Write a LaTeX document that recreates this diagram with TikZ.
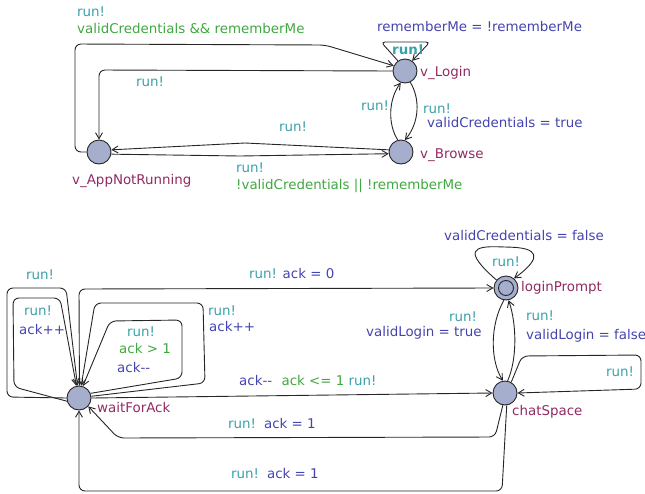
\documentclass[tikz,border=0pt]{standalone}
\usepackage{fontspec}
\setmainfont{DejaVu Sans}
\usetikzlibrary{arrows.meta,positioning}
\definecolor{locfill}{RGB}{166,174,206}
\definecolor{syncc}{RGB}{58,160,168}
\definecolor{updc}{RGB}{68,68,176}
\definecolor{guardc}{RGB}{64,168,64}
\definecolor{namec}{RGB}{146,42,98}
\tikzset{
  loc/.style={circle,draw=black!85,fill=locfill,minimum size=24pt,inner sep=0pt,line width=0.9pt},
  committed/.style={loc,path picture={\draw[black!85,line width=0.9pt] (path picture bounding box.center) circle (7.5pt);}},
  edge/.style={draw=black!85,line width=0.9pt,rounded corners=6pt,-{Straight Barb[length=6pt,width=7pt]}},
  lbl/.style={anchor=base west,inner sep=0pt},
  sync/.style={lbl,text=syncc},
  upd/.style={lbl,text=updc},
  grd/.style={lbl,text=guardc},
  locname/.style={lbl,text=namec}
}
\begin{document}
\begin{tikzpicture}[x=1pt,y=-1pt,font=\fontsize{13.4}{16}\selectfont]
  \useasboundingbox (0,0) rectangle (645,493);

  \node[loc] (login)  at (405, 71) {};
  \node[loc] (browse) at (401,152) {};
  \node[loc] (anr)    at ( 99,152) {};
  \node[committed] (prompt) at (506,288) {};
  \node[loc] (chat)   at (505,393) {};
  \node[loc] (wait)   at ( 79,398) {};

  \node[locname] (nlogin)  at (420, 76) {v\_Login};
  \node[locname] (nbrowse) at (420,158) {v\_Browse};
  \node[locname] (nanr)    at ( 72,184) {v\_AppNotRunning};
  \node[locname] (nprompt) at (521,291) {loginPrompt};
  \node[locname] (nchat)   at (512,415) {chatSpace};
  \node[locname] (nwait)   at ( 97,412) {waitForAck};

  % upper template
  \draw[edge] (anr.west) -- (75,152) -- (75,44) -- (325,45) -- (login.155);
  \node[sync] (s1) at (77,16) {run!};
  \node[grd]  (g1) at (77,33) {validCredentials \&\& rememberMe};

  \draw[edge] (login.west) -- (99,70) -- (anr.north);
  \node[sync] (s2) at (136,86) {run!};

  \draw[edge,rounded corners=0pt] (browse.170) -- (245,143) -- (anr.10);
  \node[sync] (s3) at (279,131) {run!};

  \draw[edge,rounded corners=0pt] (anr.-10) -- (240,156) -- (browse.188);
  \node[sync] (s4) at (236,172) {run!};
  \node[grd]  (g4) at (236,189) {!validCredentials || !rememberMe};

  \draw[edge,rounded corners=4pt] (login.125) -- (381,42) -- (430,42) -- (login.55);
  \node[sync,font=\fontsize{13.4}{16}\selectfont\bfseries] (s5) at (392,54) {run!};
  \node[upd]  (u5) at (377,31) {rememberMe = !rememberMe};

  \draw[edge] (browse.105) .. controls (388,125) and (388,100) .. (login.250);
  \node[sync] (s6) at (361,110) {run!};

  \draw[edge] (login.-65) .. controls (420,98) and (420,122) .. (browse.72);
  \node[sync] (s7) at (423,113) {run!};
  \node[upd]  (u7) at (427,127) {validCredentials = true};

  % lower template
  \draw[edge] (wait.west) -- (7,397) -- (7,288) -- (66,288) -- (wait.97);
  \node[sync] (s8) at (26,279) {run!};

  \draw[edge] (wait.195) -- (14,387) -- (13,298) -- (60,298) -- (wait.102);
  \node[sync] (s9) at (24,315) {run!};
  \node[upd]  (u9) at (19,334) {ack++};

  \draw[edge] (wait.8) -- (205,383) -- (203,303) -- (95,303) -- (wait.80);
  \node[sync] (s10) at (208,315) {run!};
  \node[upd]  (u10) at (209,331) {ack++};

  \draw[edge] (wait.22) -- (182,378) -- (182,320) -- (110,321) -- (wait.72);
  \node[sync] (s11) at (127,336) {run!};
  \node[grd]  (g11) at (119,353) {ack > 1};
  \node[upd]  (u11) at (117,372) {ack-{}-};

  \draw[edge] (wait.88) -- (79,289) -- (prompt.west);
  \node[lbl] (l12) at (249,278) {\textcolor{syncc}{run!} \textcolor{updc}{ack = 0}};

  \draw[edge,rounded corners=0pt] (wait.east) -- (chat.west);
  \node[lbl] (l13) at (239,385) {\textcolor{updc}{ack-{}-}\hspace{0.7em}\textcolor{guardc}{ack <= 1} \textcolor{syncc}{run!}};

  \draw[edge] (chat.-100) -- (495,437) -- (118,438) -- (wait.-42);
  \node[lbl] (l14) at (228,428) {\textcolor{syncc}{run!}\hspace{0.6em}\textcolor{updc}{ack = 1}};

  \draw[edge] (chat.-82) -- (502,491) -- (79,491) -- (wait.south);
  \node[lbl] (l15) at (231,478) {\textcolor{syncc}{run!}\hspace{0.6em}\textcolor{updc}{ack = 1}};

  \draw[edge] (prompt.-100) .. controls (490,325) and (490,360) .. (chat.100);
  \node[sync] (s16) at (449,321) {run!};
  \node[upd]  (u16) at (366,336) {validLogin = true};

  \draw[edge] (chat.78) .. controls (517,360) and (517,325) .. (prompt.-78);
  \node[sync] (s17) at (526,320) {run!};
  \node[upd]  (u17) at (526,339) {validLogin = false};

  \draw[edge] (prompt.140) .. controls (462,250) and (474,246) .. (505,247)
    .. controls (536,248) and (545,256) .. (prompt.50);
  \node[sync] (s18) at (492,266) {run!};
  \node[upd]  (u18) at (444,240) {validCredentials = false};

  \draw[edge] (chat.60) -- (522,356) -- (641,355) -- (641,389) -- (chat.east);
  \node[sync] (s19) at (606,376) {run!};
\end{tikzpicture}
\end{document}
